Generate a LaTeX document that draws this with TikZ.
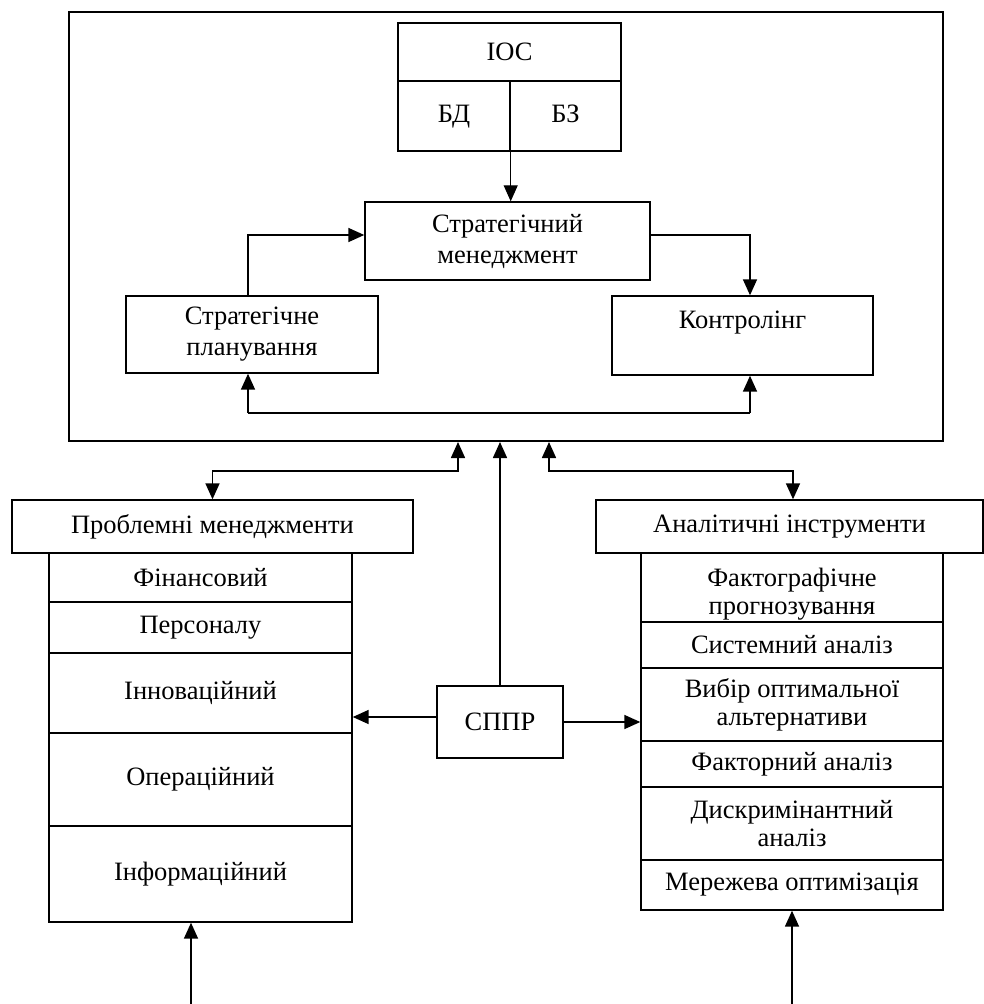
\documentclass[tikz,border=0pt]{standalone}
\usepackage{fontspec}
\setmainfont{Liberation Serif}
\usetikzlibrary{arrows.meta}
\tikzset{
	blok/.style={draw, line width=1.4pt, align=center, inner sep=0pt,
		font=\fontsize{26.5}{28}\selectfont},
	lin/.style={line width=1.6pt},
	arr/.style={lin, -{Triangle[length=16pt,width=14pt]}},
	arrr/.style={lin, {Triangle[length=16pt,width=14pt]}-{Triangle[length=16pt,width=14pt]}}
}
% box from its corners: \blok(name)(x1,y1)(x2,y2){text}
\def\blok(#1)(#2,#3)(#4,#5)#6{%
	\pgfmathsetmacro\bw{#4-#2}\pgfmathsetmacro\bh{#5-#3}%
	\node[blok, minimum width=\bw pt, minimum height=\bh pt] (#1) at ({(#2+#4)/2},{(#3+#5)/2}) {#6};}
\begin{document}
\begin{tikzpicture}[x=1pt,y=-1pt]
		\useasboundingbox (0,0) rectangle (984,1004);
		
		%%%%% upper block %%%%%
		\node[blok, line width=2pt, minimum width=874pt, minimum height=429pt] (outer) at (506,226.5) {};
		
		\begin{scope}[blok/.append style={font=\fontsize{26.5}{31}\selectfont}]
		\blok(ios)(398,23)(621,81){ІОС}
		\blok(bd)(398,81)(510,151){\strut БД}
		\blok(bz)(510,81)(621,151){\strut БЗ}
		\blok(sm)(365,202)(650,280){Стратегічний\\менеджмент}
		\blok(sp)(126,296)(378,373){Стратегічне\\планування}
		\blok(kontr)(612,296)(873,375){Контролінг\\\mbox{}}
		\end{scope}
		
		\draw[arr, line width=1.2pt] (bd.south east) -- (bd.south east |- sm.north);
		\draw[arr] ([xshift=-4pt]sp.north) |- ([yshift=6pt]sm.west);
		\draw[arr] ([yshift=6pt]sm.east) -| ([xshift=7.5pt]kontr.north);
		
		\coordinate (fbL) at (248,413);
		\coordinate (fbR) at (750,413);
		\draw[lin] (fbL) -- (fbR);
		\draw[arr] (fbL) -- (fbL |- sp.south);
		\draw[arr] (fbR) -- (fbR |- kontr.south);
		
		%%%%% problem managements %%%%%
		\blok(pm)(12,500)(413,553){Проблемні менеджменти}
		\blok(pm1)(49,553)(352,602){Фінансовий}
		\blok(pm2)(49,602)(352,653){Персоналу}
		\blok(pm3)(49,653)(352,733){Інноваційний}
		\blok(pm4)(49,733)(352,826){Операційний}
		\blok(pm5)(49,826)(352,922){Інформаційний}
		
		%%%%% analytic tools %%%%%
		\blok(ai)(596,500)(983,553){Аналітичні інструменти}
		\blok(ai1)(641,553)(943,622){\rule{0pt}{32pt}Фактографічне\\прогнозування}
		\blok(ai2)(641,622)(943,668){Системний аналіз}
		\blok(ai3)(641,668)(943,741){Вибір оптимальної\\альтернативи}
		\blok(ai4)(641,741)(943,787){Факторний аналіз}
		\blok(ai5)(641,787)(943,860){Дискримінантний\\аналіз}
		\blok(ai6)(641,860)(943,910){Мережева оптимізація}
		
		\blok(sppr)(437,686)(563,758){СППР}
		
		\coordinate (pmUp) at (458,471);
		\coordinate (aiUp) at (549,471);
		\draw[arrr] (pm.north) |- (pmUp) -- (pmUp |- outer.south);
		\draw[arrr] (aiUp |- outer.south) -- (aiUp) -| ([xshift=3.5pt]ai.north);
		\draw[arr] (sppr.north) -- (sppr.north |- outer.south);
		\draw[arr] ([yshift=5pt]sppr.west) -- ([yshift=5pt]sppr.west -| pm3.east);
		\draw[arr] (sppr.east) -- (sppr.east -| ai3.west);
		
		\coordinate (pmIn) at (191,1004);
		\coordinate (aiIn) at (792,1004);
		\draw[arr] (pmIn) -- (pmIn |- pm5.south);
		\draw[arr] (aiIn) -- (aiIn |- ai6.south);
		
		%%%%% END %%%%%
	\end{tikzpicture}
\end{document}
